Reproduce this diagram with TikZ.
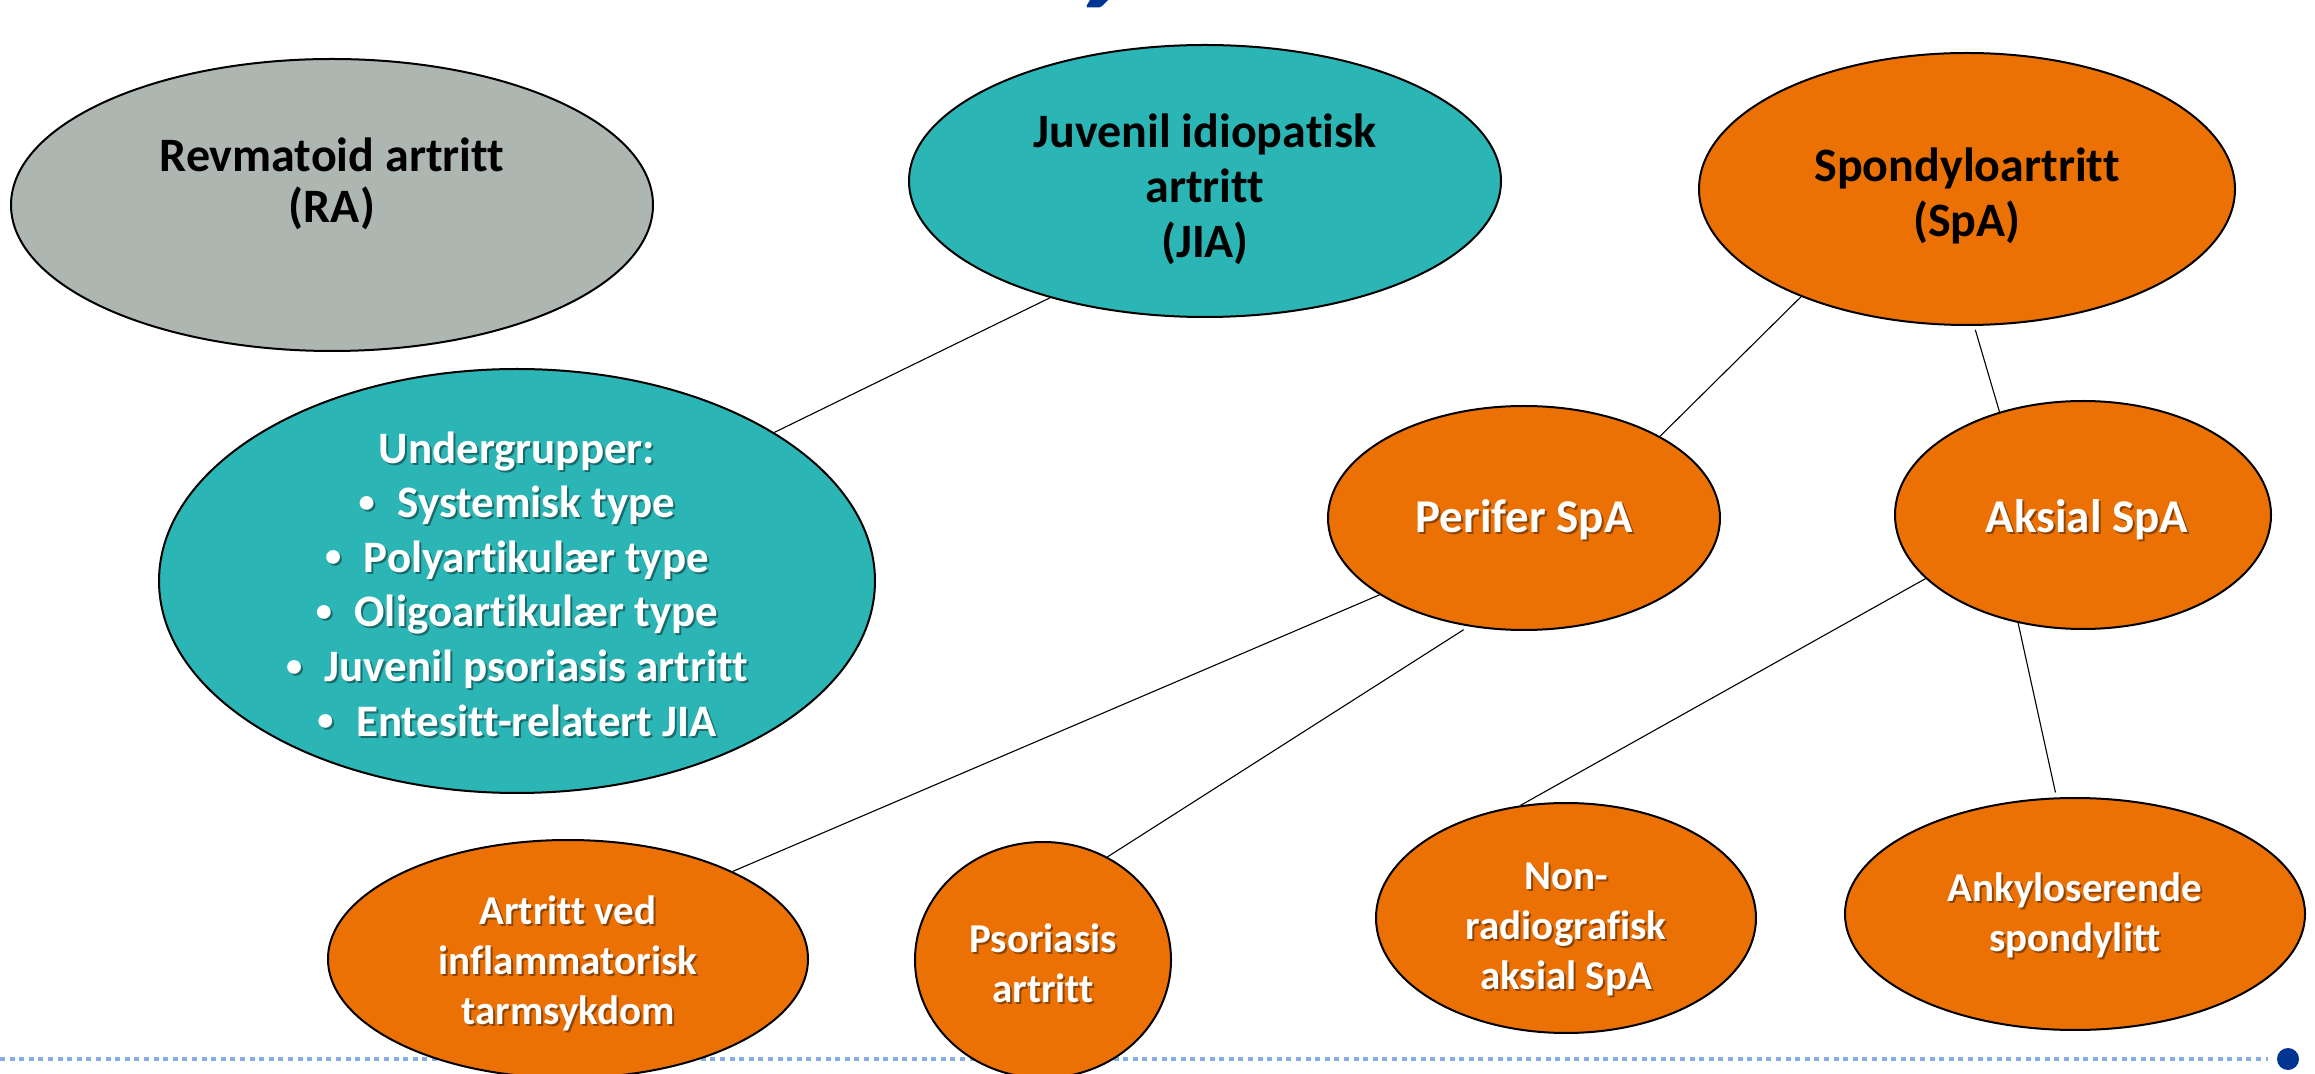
\documentclass[tikz,border=0pt]{standalone}
\usepackage{fontspec}
\setmainfont{Carlito}[Ligatures={NoCommon}]
\usetikzlibrary{shapes.geometric}
\definecolor{ragray}{HTML}{ADB6B0}
\definecolor{jiateal}{HTML}{2CB5B5}
\definecolor{spaorange}{HTML}{EC7105}
\definecolor{dotblue}{HTML}{86AEE6}
\definecolor{darkblue}{HTML}{003591}
\newcommand\shtxt[4]{%
  \node[shd, font=#3] at ([shift={(2,2)}]#2) {#4};
  \node[wtxt, font=#3] (#1) at (#2) {#4};
}
\newcommand\bul{\raisebox{0.12em}{\scalebox{0.72}{•}}\hspace{0.5em}}
\begin{document}
\begin{tikzpicture}[x=0.5pt,y=-0.5pt,
  ell/.style={ellipse, draw=black, line width=1pt, inner sep=0pt},
  ragr/.style={ell, fill=ragray},
  tealell/.style={ell, fill=jiateal},
  orgell/.style={ell, fill=spaorange},
  btxt/.style={align=center, text=black, inner sep=0pt, font=\bfseries\fontsize{24}{27.5}\selectfont},
  wtxt/.style={align=center, text=white, inner sep=0pt},
  shd/.style={align=center, text=black, text opacity=0.4, inner sep=0pt},
  conn/.style={line width=0.55pt, draw=black}
]
\useasboundingbox (0,0) rectangle (2315,1074);
% title fragment
\fill[darkblue] (1090,0) -- (1108,0) -- (1102,6) .. controls (1100,7.5) .. (1096,7.5) -- (1090,7.5) .. controls (1086,7.5) .. (1087,5) -- cycle;
% footer
\draw[dotblue, line width=2.2pt, dash pattern=on 2.5pt off 2.3pt] (0,1059) -- (2268,1059);
\fill[darkblue] (2288,1059) circle (5.5pt);

% ellipses
\node[ragr, minimum width=321pt, minimum height=146pt] (ra) at (332,205) {};
\node[tealell, minimum width=296pt, minimum height=136pt] (jia) at (1205,181) {};
\node[orgell, minimum width=268pt, minimum height=136pt] (spa) at (1967,189) {};
\node[tealell, minimum width=358pt, minimum height=212pt] (und) at (517,581) {};
\node[orgell, minimum width=196pt, minimum height=112pt] (per) at (1524,518) {};
\node[orgell, minimum width=188pt, minimum height=114pt] (aks) at (2083,515) {};
\node[orgell, minimum width=240pt, minimum height=119pt] (art) at (568,959) {};
\node[orgell, minimum width=128pt, minimum height=118pt] (pso) at (1043,960) {};
\node[orgell, minimum width=190pt, minimum height=115pt] (non) at (1566,918) {};
\node[orgell, minimum width=230pt, minimum height=116pt] (ank) at (2075,914) {};

% connectors
\draw[conn] (jia.217.6) -- (und.30.7);
\draw[conn] (spa.213) -- (per.31.6);
\draw[conn, shorten <=2pt] (spa.273.2) -- (aks.129.5);
\draw[conn] (per.208.8) -- (art.28.4);
\draw[conn, shorten <=3pt] (per.243.8) -- (pso.58.1);
\draw[conn] (aks.202.6) -- (non.112);
\draw[conn, shorten >=2.5pt] (aks.239) -- (ank.99.4);

% texts
\node[btxt, font=\bfseries\fontsize{24}{25.5}\selectfont] (ra-t) at (332,184) {Revmatoid artritt\\(RA)};
\node[btxt] (jia-t) at (1205,189) {Juvenil idiopatisk\\artritt\\(JIA)};
\node[btxt] (spa-t) at (1967,196) {Spondyloartritt\\(SpA)};
\shtxt{und-t}{517,584}{\bfseries\fontsize{22.5}{27.3}\selectfont}{Undergrupper:\\\bul Systemisk type\\\bul Polyartikulær type\\\bul Oligoartikulær type\\\bul Juvenil psoriasis artritt\\\bul Entesitt-relatert JIA}
\shtxt{per-t}{1524,520}{\bfseries\fontsize{23.5}{27}\selectfont}{Perifer SpA}
\shtxt{aks-t}{2087,520}{\bfseries\fontsize{23.5}{27}\selectfont}{Aksial SpA}
\shtxt{art-t}{568,963}{\bfseries\fontsize{20.5}{25}\selectfont}{Artritt ved\\inflammatorisk\\tarmsykdom}
\shtxt{pso-t}{1043,963}{\bfseries\fontsize{20.5}{25}\selectfont}{Psoriasis\\artritt}
\shtxt{non-t}{1566,929}{\bfseries\fontsize{20.5}{25}\selectfont}{Non-\\radiografisk\\aksial SpA}
\shtxt{ank-t}{2075,915}{\bfseries\fontsize{20.5}{25}\selectfont}{Ankyloserende\\spondylitt}
\end{tikzpicture}
\end{document}
